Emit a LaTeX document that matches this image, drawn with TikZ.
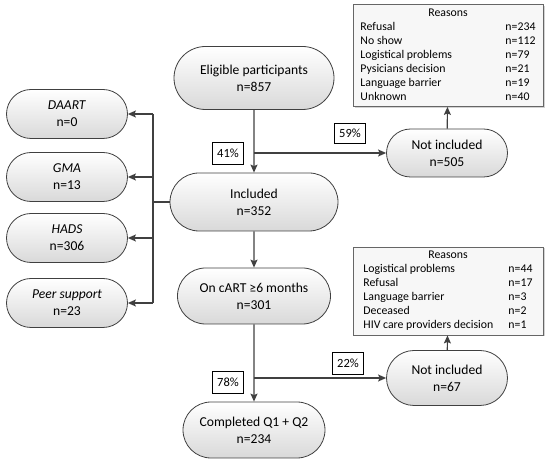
\documentclass[tikz,border=0pt]{standalone}
\usepackage{fontspec}
\setmainfont{Carlito}
\usetikzlibrary{arrows.meta, shapes.misc, shadows}

\begin{document}
\begin{tikzpicture}[x=1pt, y=-1pt, >={Stealth[length=8pt, width=7pt, inset=1.5pt]},
    flowbox/.style={rounded rectangle, draw=flowline, line width=0.8pt,
        top color=white, bottom color=black!15, align=center, inner sep=0pt,
        font=\fontsize{13.6}{17}\selectfont},
    sidebox/.style={flowbox, minimum width=121pt, minimum height=49pt},
    pctbox/.style={draw=black, line width=0.8pt, fill=white, minimum width=31pt,
        minimum height=22pt, inner sep=0pt, font=\fontsize{12.5}{14}\selectfont},
    reasonbox/.style={draw=black!60, line width=0.8pt, fill=black!3, inner sep=2pt,
        minimum width=190pt, font=\fontsize{11.8}{14}\selectfont,
        drop shadow={shadow xshift=1.5pt, shadow yshift=-1.5pt, opacity=0.35}},
    link/.style={draw=flowline, line width=1.2pt}
]

% Colores
\definecolor{flowline}{RGB}{64, 64, 64}

\useasboundingbox (0,0) rectangle (550,465);

% ============ Columna central ============
\node[flowbox, minimum width=160pt, minimum height=63pt] (elig) at (254,78) {Eligible participants\\n=857};
\node[flowbox, minimum width=168pt, minimum height=58pt] (incl) at (254,202) {Included\\n=352};
\node[flowbox, minimum width=153pt, minimum height=56pt] (cart) at (254,296) {On cART ≥6 months\\n=301};
\node[flowbox, minimum width=142pt, minimum height=56pt] (done) at (254,430) {Completed Q1 + Q2\\n=234};

% ============ Excluidos ============
\node[flowbox, minimum width=121pt, minimum height=48pt] (notinA) at (447,153) {Not included\\n=505};
\node[flowbox, minimum width=121pt, minimum height=55pt] (notinB) at (447,378) {Not included\\n=67};

% Razones
\node[reasonbox] (reasA) at (448,55.5) {%
    \begin{tabular}{@{}p{133pt}l@{}}
    \multicolumn{2}{c}{Reasons}\\
    Refusal & n=234\\
    No show & n=112\\
    Logistical problems & n=79\\
    Pysicians decision & n=21\\
    Language barrier & n=19\\
    Unknown & n=40
    \end{tabular}};
\node[reasonbox] (reasB) at (448,291) {%
    \begin{tabular}{@{}p{133pt}l@{}}
    \multicolumn{2}{c}{Reasons}\\
    Logistical problems & n=44\\
    Refusal & n=17\\
    Language barrier & n=3\\
    Deceased & n=2\\
    HIV care providers decision & n=1
    \end{tabular}};

% ============ Intervenciones (izquierda) ============
\foreach \nm/\y/\lab/\cnt in {daart/114/DAART/0, gma/177/GMA/13, hads/238/HADS/306, peer/303/Peer support/23}
    \node[sidebox] (\nm) at (67,\y) {\textit{\lab}\\n=\cnt};

% Flechas
\coordinate (j1) at (elig.south |- notinA.west);
\coordinate (j2) at (cart.south |- notinB.west);
\draw[link, ->] (elig) -- (incl);
\draw[link, ->] (j1) -- (notinA.west);
\draw[link, ->] (incl) -- (cart);
\draw[link, ->] (cart) -- (done);
\draw[link, ->] (j2) -- (notinB.west);
\draw[link, ->] (notinA) -- (reasA);
\draw[link, ->] (notinB) -- (reasB);

\coordinate (bus) at (153,202);
\draw[link] (incl.west) -- (bus);
\draw[link] (bus |- daart.east) -- (bus |- peer.east);
\foreach \nm in {daart, gma, hads, peer}
    \draw[link, ->] (bus |- \nm.east) -- (\nm.east);

% Porcentajes
\node[pctbox] (pA) at (228,153) {41\%};
\node[pctbox, minimum height=20pt] (pB) at (350,133) {59\%};
\node[pctbox] (pC) at (228,382) {78\%};
\node[pctbox] (pD) at (348,363) {22\%};

\end{tikzpicture}
\end{document}
